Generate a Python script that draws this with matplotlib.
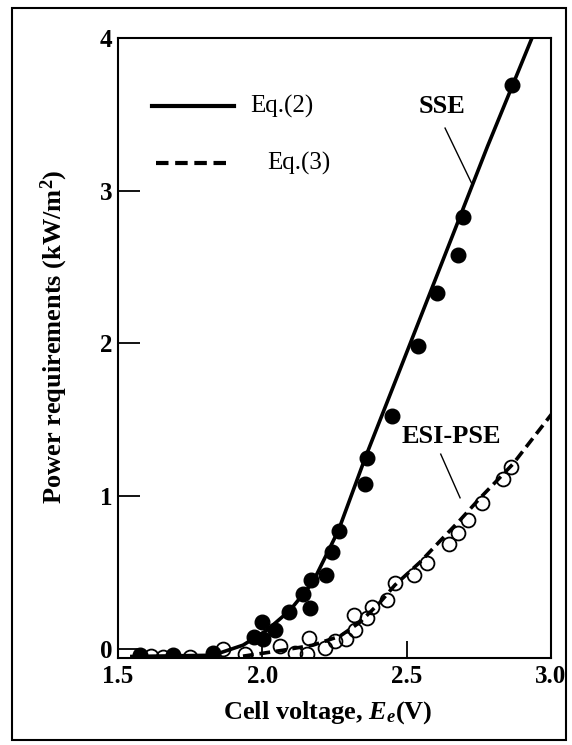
#!/usr/bin/env python3
"""
Power requirements vs cell voltage (SSE / ESI-PSE)
"""

import matplotlib
matplotlib.use('Agg')
import matplotlib.pyplot as plt
from matplotlib.patches import Rectangle

plt.rcParams['font.family'] = ['Liberation Serif', 'DejaVu Serif']
plt.rcParams['mathtext.fontset'] = 'custom'
plt.rcParams['mathtext.rm'] = 'Liberation Serif:bold'
plt.rcParams['mathtext.it'] = 'Liberation Serif:italic:bold'
plt.rcParams['mathtext.bf'] = 'Liberation Serif:bold'

# SSE measured points (filled circles)
sse_v = [1.576, 1.689, 1.829, 1.971, 1.998, 2.002, 2.044, 2.091, 2.140, 2.165, 2.167,
         2.220, 2.241, 2.264, 2.356, 2.361, 2.449, 2.539, 2.606, 2.677, 2.694, 2.864]
sse_p = [-0.04, -0.04, -0.03, 0.076, 0.176, 0.063, 0.122, 0.242, 0.358, 0.266, 0.450,
         0.482, 0.635, 0.773, 1.079, 1.249, 1.524, 1.983, 2.332, 2.579, 2.828, 3.693]

# ESI-PSE measured points (open circles)
esi_v = [1.614, 1.656, 1.749, 1.864, 1.940, 2.061, 2.113, 2.154, 2.162, 2.217, 2.252, 2.290,
         2.317, 2.321, 2.361, 2.380, 2.432, 2.459, 2.525, 2.572, 2.647, 2.678, 2.712, 2.760,
         2.834, 2.861]
esi_p = [-0.05, -0.055, -0.055, -0.003, -0.035, 0.017, -0.027, -0.035, 0.069, 0.004, 0.052,
         0.063, 0.220, 0.122, 0.201, 0.273, 0.318, 0.430, 0.482, 0.561, 0.686, 0.758, 0.843,
         0.954, 1.111, 1.190]

# Eq.(2) curve (solid)
eq2_v = [1.548, 1.829, 1.933, 2.016, 2.096, 2.175, 2.264, 2.356, 2.477, 2.626, 2.780, 2.934]
eq2_p = [-0.05, -0.042, 0.024, 0.122, 0.253, 0.436, 0.777, 1.249, 1.830, 2.547, 3.290, 4.0]

# Eq.(3) curve (dashed)
eq3_v = [1.933, 2.072, 2.175, 2.269, 2.338, 2.408, 2.459, 2.546, 2.615, 2.685, 2.754, 2.868, 3.002]
eq3_p = [-0.048, -0.009, 0.024, 0.083, 0.174, 0.305, 0.417, 0.567, 0.705, 0.843, 0.987, 1.210, 1.537]

x_ticks = [1.5, 2.0, 2.5, 3.0]
x_ticklabels = ['1.5', '2.0', '2.5', '3.0']
y_ticks = [0, 1, 2, 3, 4]
y_ticklabels = ['0', '1', '2', '3', '4']

# curve labels and their pointer lines
sse_label_xy = (2.621, 3.551)
sse_pointer_v = [2.633, 2.725]
sse_pointer_p = [3.410, 3.049]
esi_label_xy = (2.656, 1.389)
esi_pointer_v = [2.618, 2.685]
esi_pointer_p = [1.275, 0.989]


def main():
    fig = plt.figure(figsize=(5.72, 7.45), dpi=100)
    ax = fig.add_axes([118 / 572, 87 / 745, 433 / 572, 620 / 745])

    # figure frame
    fig.patches.append(Rectangle((12 / 572, 5 / 745), 554 / 572, 732 / 745,
                                 transform=fig.transFigure, fill=False,
                                 edgecolor='black', linewidth=1.5))

    ax.plot(eq2_v, eq2_p, '-', color='black', lw=2.6, zorder=2)
    ax.plot(eq3_v, eq3_p, color='black', lw=2.6, dashes=(3, 1.6), zorder=2)

    ax.plot(sse_v, sse_p, 'o', color='black', ms=10.5, zorder=3)
    ax.plot(esi_v, esi_p, 'o', mfc='none', mec='black', mew=1.3, ms=10, zorder=3)

    # labels with pointers
    ax.text(*sse_label_xy, 'SSE', fontsize=19, fontweight='bold', ha='center', va='center')
    ax.plot(sse_pointer_v, sse_pointer_p, color='black', lw=1.0)
    ax.text(*esi_label_xy, 'ESI-PSE', fontsize=19, fontweight='bold', ha='center', va='center')
    ax.plot(esi_pointer_v, esi_pointer_p, color='black', lw=1.0)

    # hand-drawn legend
    ax.plot([0.0785, 0.268], [0.890, 0.890], '-', color='black', lw=3, transform=ax.transAxes)
    ax.text(0.305, 0.890, 'Eq.(2)', fontsize=18, ha='left', va='center', transform=ax.transAxes)
    ax.plot([0.0878, 0.261], [0.798, 0.798], color='black', lw=3, dashes=(3, 1.6),
            transform=ax.transAxes)
    ax.text(0.344, 0.798, 'Eq.(3)', fontsize=18, ha='left', va='center', transform=ax.transAxes)

    ax.set_xlim(1.5, 3.0)
    ax.set_ylim(-0.06, 4.0)
    ax.set_xticks(x_ticks)
    ax.set_xticklabels(x_ticklabels, fontsize=18, fontweight='bold')
    ax.set_yticks(y_ticks)
    ax.set_yticklabels(y_ticklabels, fontsize=18, fontweight='bold')
    ax.tick_params(axis='x', direction='in', length=12, width=1.3, pad=5)
    ax.tick_params(axis='y', direction='in', length=16, width=1.3, pad=4)

    for sp in ax.spines.values():
        sp.set_linewidth(1.5)

    ax.set_xlabel('Cell voltage, $E_e$(V)', fontsize=19, fontweight='bold')
    ax.xaxis.set_label_coords(0.484, -0.066)
    ax.set_ylabel('Power requirements (kW/m$^{2}$)', fontsize=19, fontweight='bold')
    ax.yaxis.set_label_coords(-0.112, 0.519)

    fig.savefig('out.png', dpi=100)
    plt.close(fig)


if __name__ == "__main__":
    main()
